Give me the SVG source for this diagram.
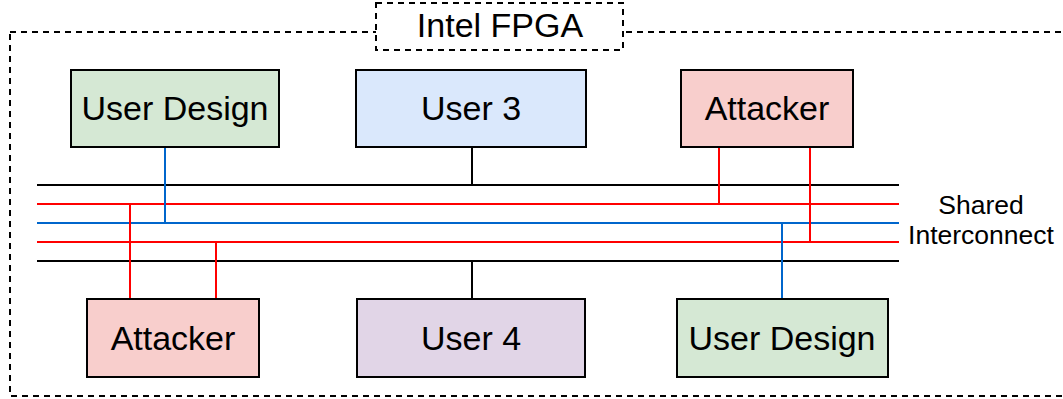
<svg xmlns="http://www.w3.org/2000/svg" width="1063" height="399" viewBox="0 0 1063 399">
  <style>
    .box { stroke: #000; stroke-width: 2; }
    .lbl { font-family: "Liberation Sans", Arial, sans-serif; font-size: 34px; fill: #000; text-anchor: middle; }
    .small { font-family: "Liberation Sans", Arial, sans-serif; font-size: 26.5px; fill: #000; text-anchor: middle; }
    .dash { stroke: #000; stroke-width: 2; stroke-dasharray: 6 5; }
    .hollow { fill: none; }
    .solid { fill: #fff; }
    .blk { stroke: #000; stroke-width: 2; fill: none; }
    .red { stroke: #FF0000; stroke-width: 2; fill: none; }
    .blu { stroke: #0066CC; stroke-width: 2; fill: none; }
    .green { fill: #D5E8D4; }
    .blue { fill: #DAE8FC; }
    .pink { fill: #F8CECC; }
    .purple { fill: #E1D5E7; }
  </style>
  <rect width="1063" height="399" fill="#fff"/>

  <!-- FPGA boundary -->
  <g id="fpga">
    <rect class="dash hollow" x="10" y="32" width="1070" height="364"/>
    <rect class="dash solid" x="376" y="3" width="247" height="47"/>
    <text class="lbl" x="500" y="37">Intel FPGA</text>
  </g>

  <!-- interconnect wires and taps -->
  <g id="connectors">
    <line class="blk" x1="37" y1="185" x2="899" y2="185"/>
    <line class="red" x1="37" y1="204" x2="899" y2="204"/>
    <line class="blu" x1="37" y1="223" x2="899" y2="223"/>
    <line class="red" x1="37" y1="242" x2="899" y2="242"/>
    <line class="blk" x1="37" y1="261" x2="899" y2="261"/>

    <line class="blu" x1="165" y1="147" x2="165" y2="223"/>
    <line class="blk" x1="472" y1="147" x2="472" y2="185"/>
    <line class="red" x1="719" y1="147" x2="719" y2="204"/>
    <line class="red" x1="810" y1="147" x2="810" y2="242"/>

    <line class="red" x1="130" y1="204" x2="130" y2="299"/>
    <line class="red" x1="216" y1="242" x2="216" y2="299"/>
    <line class="blk" x1="472" y1="261" x2="472" y2="299"/>
    <line class="blu" x1="782" y1="223" x2="782" y2="299"/>
  </g>

  <g id="interconnect-label">
    <text class="small" x="981" y="214">Shared</text>
    <text class="small" x="981" y="244">Interconnect</text>
  </g>

  <!-- top row -->
  <g id="user-design-top">
    <rect class="box green" x="71" y="70" width="208" height="77"/>
    <text class="lbl" x="175" y="120">User Design</text>
  </g>
  <g id="user3">
    <rect class="box blue" x="356" y="70" width="230" height="77"/>
    <text class="lbl" x="471" y="120">User 3</text>
  </g>
  <g id="attacker-top">
    <rect class="box pink" x="681" y="70" width="172" height="77"/>
    <text class="lbl" x="767" y="120">Attacker</text>
  </g>

  <!-- bottom row -->
  <g id="attacker-bottom">
    <rect class="box pink" x="87" y="299" width="172" height="78"/>
    <text class="lbl" x="173" y="350">Attacker</text>
  </g>
  <g id="user4">
    <rect class="box purple" x="357" y="299" width="228" height="78"/>
    <text class="lbl" x="471" y="350">User 4</text>
  </g>
  <g id="user-design-bottom">
    <rect class="box green" x="677" y="299" width="211" height="78"/>
    <text class="lbl" x="782" y="350">User Design</text>
  </g>
</svg>
